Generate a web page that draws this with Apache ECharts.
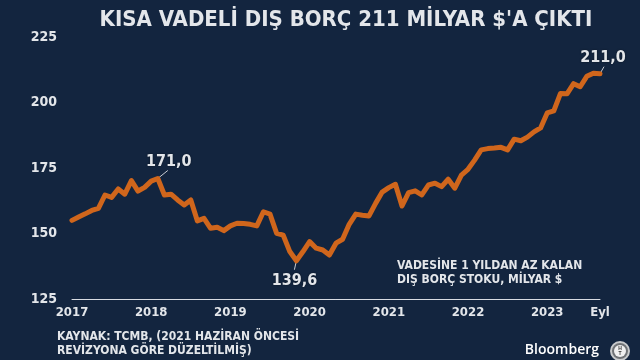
<!DOCTYPE html>
<html><head><meta charset="utf-8">
<script src="https://cdn.jsdelivr.net/npm/echarts@6/dist/echarts.min.js"></script>
<style>html,body{margin:0;padding:0;background:#13253f;}#c{width:640px;height:360px;}</style>
</head><body><div id="c"></div>
<script>
// ---- data ----
const months = [
 '2017-01','2017-02','2017-03','2017-04','2017-05','2017-06','2017-07','2017-08','2017-09','2017-10','2017-11','2017-12',
 '2018-01','2018-02','2018-03','2018-04','2018-05','2018-06','2018-07','2018-08','2018-09','2018-10','2018-11','2018-12',
 '2019-01','2019-02','2019-03','2019-04','2019-05','2019-06','2019-07','2019-08','2019-09','2019-10','2019-11','2019-12',
 '2020-01','2020-02','2020-03','2020-04','2020-05','2020-06','2020-07','2020-08','2020-09','2020-10','2020-11','2020-12',
 '2021-01','2021-02','2021-03','2021-04','2021-05','2021-06','2021-07','2021-08','2021-09','2021-10','2021-11','2021-12',
 '2022-01','2022-02','2022-03','2022-04','2022-05','2022-06','2022-07','2022-08','2022-09','2022-10','2022-11','2022-12',
 '2023-01','2023-02','2023-03','2023-04','2023-05','2023-06','2023-07','2023-08','2023-09'
];
const debt = [
 155.0,156.3,157.5,158.8,159.6,164.7,163.8,167.0,165.0,170.2,166.2,167.6,
 170.0,171.0,164.7,165.0,162.8,160.9,162.8,154.8,155.8,152.0,152.4,151.1,
 152.9,153.9,153.8,153.5,152.9,158.3,157.4,150.1,149.4,143.1,139.6,143.1,
 146.9,144.4,143.7,141.8,146.3,147.8,153.5,157.4,157.0,156.7,161.5,165.8,
 167.5,168.8,160.5,165.6,166.3,164.7,168.5,169.2,167.9,170.7,167.3,172.3,
 174.5,178.0,181.9,182.4,182.6,182.9,181.9,186.0,185.4,186.8,188.8,190.3,
 196.0,196.8,203.4,203.3,207.2,206.0,210.0,211.2,211.0
];
const yMin = 125, yMax = 225, yStep = 25;
const xTickLabels = {
 '2017-01':'2017','2018-01':'2018','2019-01':'2019','2020-01':'2020',
 '2021-01':'2021','2022-01':'2022','2023-01':'2023','2023-09':'Eyl'
};
const annotatedMonths = ['2018-02','2019-11','2023-09'];
const titleText = "KISA VADELİ DIŞ BORÇ 211 MİLYAR $'A ÇIKTI";
const seriesNote = 'VADESİNE 1 YILDAN AZ KALAN\nDIŞ BORÇ STOKU, MİLYAR $';
const sourceNote = 'KAYNAK: TCMB, (2021 HAZİRAN ÖNCESİ\nREVİZYONA GÖRE DÜZELTİLMİŞ)';

// ---- chart ----
const FONT = "'DejaVu Sans Condensed', 'DejaVu Sans', sans-serif";
const TXT = '#e3e6ea';
const chart = echarts.init(document.getElementById('c'), null, {renderer:'canvas'});
chart.setOption({
  backgroundColor: '#13253f',
  animation: false,
  title: {
    text: titleText, left: 341, top: 4, textAlign: 'center',
    textStyle: {color: TXT, fontFamily: FONT, fontWeight: 'bold', fontSize: 22}
  },
  grid: {left: 72, right: 40, top: 37, bottom: 61},
  xAxis: {
    type: 'category', data: months, boundaryGap: false,
    axisLine: {show: true, lineStyle: {color: '#d8dce2', width: 1}},
    axisTick: {show: false},
    axisLabel: {
      interval: function (i, v) { return xTickLabels[v] !== undefined; },
      formatter: function (v) { return xTickLabels[v] || ''; },
      color: TXT, fontFamily: FONT, fontWeight: 'bold', fontSize: 13, margin: 7
    },
    splitLine: {show: false}
  },
  yAxis: {
    type: 'value', min: yMin, max: yMax, interval: yStep,
    axisLine: {show: false}, axisTick: {show: false}, splitLine: {show: false},
    axisLabel: {color: TXT, fontFamily: FONT, fontWeight: 'bold', fontSize: 14, margin: 15}
  },
  series: [{
    type: 'line', data: debt, symbol: 'none', smooth: false,
    lineStyle: {color: '#d0661c', width: 5, cap: 'round', join: 'round'}
  }]
});

// annotations computed through the chart scales
const offsets = {
  '2018-02': {line: [10, -8], text: [11, -17]},
  '2019-11': {line: [-2, 9], text: [-2, 20]},
  '2023-09': {line: [4, -7], text: [3, -16]}
};
const graphics = [];
annotatedMonths.forEach(function (m) {
  const idx = months.indexOf(m);
  const val = debt[idx];
  const p = chart.convertToPixel({gridIndex: 0}, [m, val]);
  const o = offsets[m];
  graphics.push({
    type: 'line', silent: true,
    shape: {x1: p[0], y1: p[1], x2: p[0] + o.line[0], y2: p[1] + o.line[1]},
    style: {stroke: '#c9ccd2', lineWidth: 1}
  });
  graphics.push({
    type: 'text', silent: true, x: p[0] + o.text[0], y: p[1] + o.text[1],
    style: {
      text: val.toFixed(1).replace('.', ','), fill: TXT, align: 'center', verticalAlign: 'middle',
      font: "bold 16px " + FONT, textShadowColor: 'rgba(0,0,0,0.5)', textShadowBlur: 2
    }
  });
});
graphics.push({
  type: 'text', silent: true, x: 397, y: 259,
  style: {text: seriesNote, fill: TXT, font: "bold 12px " + FONT, lineHeight: 14}
});
graphics.push({
  type: 'text', silent: true, x: 57, y: 330,
  style: {text: sourceNote, fill: TXT, font: "bold 12px " + FONT, lineHeight: 14}
});
graphics.push({
  type: 'text', silent: true, x: 599, y: 350,
  style: {text: 'Bloomberg', fill: '#ffffff', font: "600 14px 'Open Sans', sans-serif", align: 'right', verticalAlign: 'middle'}
});
graphics.push({
  type: 'circle', silent: true, shape: {cx: 620, cy: 351, r: 9},
  style: {fill: '#6f7276', stroke: '#c8cacc', lineWidth: 2}
});
graphics.push({
  type: 'circle', silent: true, shape: {cx: 620, cy: 351, r: 6},
  style: {fill: '#f0f0f0'}
});
graphics.push({
  type: 'text', silent: true, x: 620, y: 351,
  style: {text: 'H\nT', fill: '#333', font: "bold 5px sans-serif", align: 'center', verticalAlign: 'middle', lineHeight: 5}
});
chart.setOption({graphic: graphics});
</script>
</body></html>
